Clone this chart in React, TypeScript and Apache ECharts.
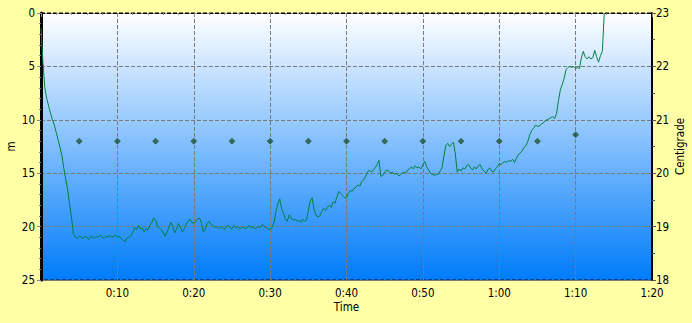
import React, { useEffect, useRef } from "react";
import * as echarts from "echarts";

// depth samples every 0.25 min starting at 0:00
const sampleStepMin = 0.25;
const depths: number[] = [
  1.4, 4.6, 7.0, 8.0, 8.7, 9.4, 10.0, 10.5, 11.2, 11.9, 12.6, 13.4, 14.6, 15.6, 16.6, 17.9,
  19.2, 20.7, 21.0, 21.1, 20.9, 21.0, 21.1, 20.9, 21.0, 21.2, 20.9, 21.0, 21.1, 20.9, 21.0, 20.8,
  21.0, 21.1, 20.9, 21.0, 20.8, 21.0, 20.9, 20.8, 21.0, 20.9, 21.1, 21.3, 21.4, 21.1, 21.0, 20.9,
  20.6, 20.1, 20.3, 19.9, 20.2, 20.1, 20.5, 20.2, 20.3, 19.9, 19.6, 19.2, 19.4, 20.0, 20.1, 20.3,
  20.6, 20.9, 20.5, 20.1, 19.6, 20.0, 20.6, 20.2, 19.7, 20.1, 20.5, 20.2, 19.8, 19.5, 19.3, 19.6,
  19.7, 19.5, 19.3, 19.2, 19.6, 20.5, 20.3, 19.7, 19.5, 19.8, 19.9, 20.1, 20.0, 20.2, 20.0, 20.1,
  20.3, 20.0, 19.9, 20.1, 20.2, 19.9, 20.1, 20.0, 20.2, 20.1, 20.0, 20.2, 20.1, 19.9, 20.1, 20.0,
  20.2, 20.1, 20.0, 20.1, 19.8, 20.0, 20.1, 20.2, 20.3, 20.1, 19.6, 18.6, 17.9, 17.4, 18.3, 18.8,
  19.3, 19.5, 18.9, 19.2, 19.4, 19.3, 19.5, 19.4, 19.6, 19.3, 19.5, 19.4, 18.6, 17.6, 17.3, 18.4,
  18.9, 19.1, 19.0, 18.6, 18.3, 18.5, 18.2, 18.0, 18.2, 17.7, 17.8, 17.2, 16.7, 16.9, 17.1, 17.3,
  17.3, 16.9, 16.6, 16.7, 16.4, 16.3, 16.1, 16.2, 15.8, 15.6, 15.3, 14.9, 14.7, 14.9, 14.7, 14.5,
  14.2, 13.8, 15.3, 15.2, 14.9, 14.7, 14.8, 15.0, 14.9, 15.1, 15.0, 15.2, 15.2, 15.0, 14.9, 15.0,
  14.7, 14.6, 14.4, 14.6, 14.3, 14.5, 14.4, 14.6, 14.2, 13.9, 14.4, 14.7, 15.0, 15.1, 15.2, 15.1,
  15.1, 14.8, 14.5, 13.4, 12.4, 12.2, 12.5, 12.3, 12.1, 13.2, 14.9, 14.6, 14.8, 14.5, 14.6, 14.3,
  14.2, 14.5, 14.7, 14.4, 14.6, 14.3, 14.2, 14.6, 14.8, 15.0, 14.7, 14.5, 14.8, 14.9, 14.6, 14.4,
  14.1, 14.2, 14.0, 13.9, 14.0, 13.8, 13.9, 13.7, 14.0, 13.6, 13.3, 13.1, 12.9, 12.6, 12.4, 12.0,
  11.4, 11.0, 10.8, 10.5, 10.6, 10.6, 10.4, 10.3, 10.1, 10.0, 9.9, 9.8, 9.7, 9.9, 9.4, 8.2,
  7.2, 6.7, 6.1, 5.3, 5.1, 5.0, 5.1, 5.0, 5.2, 5.1, 5.2, 4.2, 3.6, 4.1, 4.3, 4.1,
  4.3, 4.2, 3.5, 4.1, 4.6, 4.0, 3.6, 0.0,
];

// temperature readings (minutes, °C)
const tempTimes: number[] = [5, 10, 15, 20, 25, 30, 35, 40, 45, 50, 55, 60, 65, 70];
const tempValues: number[] = [20.6, 20.6, 20.6, 20.6, 20.6, 20.6, 20.6, 20.6, 20.6, 20.6, 20.6, 20.6, 20.6, 20.72];

const depthTicks = { min: 0, max: 25, interval: 5 };
const tempTicks = { min: 18, max: 23, interval: 1 };
const timeTicks = { min: 0, max: 80, interval: 10 };

const FONT = "'Liberation Sans Narrow', 'DejaVu Sans Condensed', 'Liberation Sans', sans-serif";

function fmtTime(v: number): string {
  if (v === 0) return "";
  const h = Math.floor(v / 60);
  const m = Math.round(v - h * 60);
  return `${h}:${m < 10 ? "0" + m : m}`;
}

export default function App() {
  const ref = useRef<HTMLDivElement>(null);
  useEffect(() => {
    document.body.style.margin = "0";
    if (!ref.current) return;
    const chart = echarts.init(ref.current, undefined, { renderer: "svg" });
    const depthData = depths.map((d, i) => [i * sampleStepMin, d]);
    const tempData = tempTimes.map((t, i) => [t, tempValues[i]]);
    const labelStyle = { color: "#000", fontFamily: FONT, fontSize: 11.5 };
    chart.setOption({
      animation: false,
      backgroundColor: "#FFFFA6",
      grid: {
        left: 41,
        right: 40,
        top: 13,
        bottom: 43,
        containLabel: false,
        outerBoundsMode: "none",
        show: true,
        borderColor: "#000",
        borderWidth: 1,
        borderType: "dashed",
        backgroundColor: new echarts.graphic.LinearGradient(0, 0, 0, 1, [
          { offset: 0, color: "#FFFFFF" },
          { offset: 1, color: "#007CFA" },
        ]),
      },
      xAxis: {
        type: "value",
        min: timeTicks.min,
        max: timeTicks.max,
        interval: timeTicks.interval,
        name: "Time",
        nameLocation: "middle",
        nameGap: 21,
        nameMoveOverlap: false,
        nameTextStyle: labelStyle,
        axisLine: { show: true, lineStyle: { color: "#000", width: 1, type: "dashed" } },
        axisTick: { show: true, length: 4, lineStyle: { color: "#888" } },
        minorTick: { show: true, splitNumber: 5, length: 2, lineStyle: { color: "#888" } },
        axisLabel: { ...labelStyle, formatter: fmtTime, margin: 7 },
        splitLine: { show: true, lineStyle: { color: "#7A7A7A", type: "dashed", width: 1 } },
      },
      yAxis: [
        {
          type: "value",
          inverse: true,
          min: depthTicks.min,
          max: depthTicks.max,
          interval: depthTicks.interval,
          name: "m",
          nameLocation: "middle",
          nameGap: 24,
          nameMoveOverlap: false,
          nameTextStyle: labelStyle,
          axisLine: { show: true, onZero: false, lineStyle: { color: "#000", width: 3 } },
          axisTick: { show: true, length: 4, lineStyle: { color: "#888" } },
          minorTick: { show: true, splitNumber: 5, length: 2, lineStyle: { color: "#888" } },
          axisLabel: { ...labelStyle, margin: 6 },
          splitLine: { show: true, lineStyle: { color: "#7A7A7A", type: "dashed", width: 1 } },
        },
        {
          type: "value",
          position: "right",
          min: tempTicks.min,
          max: tempTicks.max,
          interval: tempTicks.interval,
          name: "Centigrade",
          nameLocation: "middle",
          nameGap: 22,
          nameMoveOverlap: false,
          nameTextStyle: labelStyle,
          axisLine: { show: true, onZero: false, lineStyle: { color: "#000", width: 2 } },
          axisTick: { show: true, length: 4, lineStyle: { color: "#555" } },
          minorTick: { show: true, splitNumber: 2, length: 3, lineStyle: { color: "#555" } },
          axisLabel: { ...labelStyle, margin: 4 },
          splitLine: { show: false },
        },
      ],
      series: [
        {
          type: "line",
          name: "Depth",
          data: depthData,
          yAxisIndex: 0,
          showSymbol: false,
          symbol: "none",
          lineStyle: { color: "#008040", width: 1 },
          clip: true,
          z: 3,
        },
        {
          type: "scatter",
          name: "Temperature",
          data: tempData,
          yAxisIndex: 1,
          symbol: "diamond",
          symbolSize: 6,
          itemStyle: { color: "#1F5A30", borderColor: "#102010", borderWidth: 0.5 },
          z: 4,
        },
      ],
    });
    return () => chart.dispose();
  }, []);
  return <div ref={ref} style={{ width: 692, height: 323 }} />;
}
